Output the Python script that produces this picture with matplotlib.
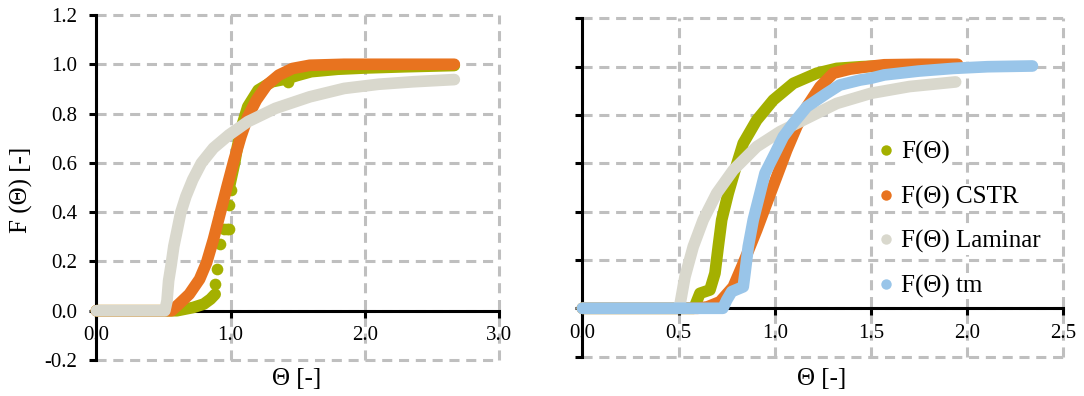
import numpy as np
import matplotlib.pyplot as plt
from matplotlib.lines import Line2D
from matplotlib.ticker import FormatStrFormatter, MultipleLocator

plt.rcParams['font.family'] = ['Liberation Serif', 'DejaVu Serif']
plt.rcParams['axes.unicode_minus'] = False

# colours (Excel-like)
c_exp = '#A4B000'
c_cstr = '#E8731F'
c_lam = '#D9D8CD'
c_tm = '#99C5E9'

# ---- left chart ----
# F(Theta) measured: low part, scattered dots, upper part
L_exp_lo_x = [0.0, 0.3, 0.6, 0.72, 0.8, 0.85, 0.885]
L_exp_lo_y = [0.0, 0.0, 0.0, 0.013, 0.027, 0.047, 0.067]
L_exp_dot_x = [0.885, 0.897, 0.923, 0.949, 0.975, 0.987, 0.99, 1.0]
L_exp_dot_y = [0.108, 0.168, 0.269, 0.33, 0.33, 0.33, 0.43, 0.49]
L_exp_hi_x = [0.99, 1.03, 1.051, 1.09, 1.128, 1.205, 1.308, 1.41, 1.5, 1.6, 1.8, 2.0, 2.3, 2.667]
L_exp_hi_y = [0.5, 0.6, 0.666, 0.76, 0.828, 0.895, 0.929, 0.94, 0.955, 0.97, 0.98, 0.985, 0.99, 0.995]
L_exp_extra_x = [1.43]
L_exp_extra_y = [0.93]

L_cstr_x = [0.0, 0.3, 0.56, 0.615, 0.692, 0.769, 0.821, 0.872, 0.923, 0.974, 1.026,
            1.077, 1.128, 1.192, 1.269, 1.359, 1.462, 1.59, 1.846, 2.2, 2.667]
L_cstr_y = [0.0, 0.0, 0.0, 0.027, 0.067, 0.128, 0.195, 0.289, 0.397, 0.505, 0.612,
            0.707, 0.787, 0.855, 0.915, 0.956, 0.983, 0.996, 1.0, 1.0, 1.0]

L_lam_x = [0.0, 0.25, 0.51, 0.526, 0.538, 0.556, 0.577, 0.603, 0.628, 0.667, 0.718,
           0.782, 0.872, 0.987, 1.128, 1.333, 1.59, 1.846, 2.103, 2.359, 2.667]
L_lam_y = [0.0, 0.0, 0.0, 0.04, 0.121, 0.182, 0.262, 0.33, 0.397, 0.464, 0.532,
           0.599, 0.66, 0.713, 0.767, 0.821, 0.868, 0.902, 0.919, 0.929, 0.938]

# ---- right chart ----
R_exp_x = [0.0, 0.3, 0.58, 0.611, 0.663, 0.689, 0.706, 0.724, 0.758, 0.793, 0.836, 0.906,
           0.992, 1.096, 1.218, 1.322, 1.45, 1.6]
R_exp_y = [0.0, 0.0, 0.0, 0.062, 0.076, 0.145, 0.255, 0.366, 0.476, 0.572, 0.683, 0.779,
           0.862, 0.931, 0.973, 0.993, 1.0, 1.005]

R_cstr_x = [0.0, 0.3, 0.6, 0.65, 0.715, 0.784, 0.836, 0.906, 0.958, 1.01, 1.062, 1.114,
            1.166, 1.235, 1.304, 1.39, 1.48, 1.569, 1.75, 1.95]
R_cstr_y = [0.0, 0.0, 0.0, 0.006, 0.027, 0.089, 0.186, 0.324, 0.435, 0.545, 0.655, 0.752,
            0.834, 0.917, 0.973, 0.99, 1.0, 1.008, 1.01, 1.01]

R_lam_x = [0.0, 0.25, 0.5, 0.506, 0.533, 0.576, 0.628, 0.698, 0.784, 0.906, 1.027,
           1.183, 1.322, 1.5, 1.7, 1.94]
R_lam_y = [0.0, 0.0, 0.0, 0.01, 0.13, 0.255, 0.366, 0.476, 0.572, 0.669, 0.731,
           0.793, 0.848, 0.89, 0.918, 0.937]

R_tm_x = [0.0, 0.35, 0.73, 0.75, 0.776, 0.836, 0.845, 0.862, 0.888, 0.923, 0.949, 1.001,
          1.044, 1.096, 1.166, 1.27, 1.337, 1.444, 1.498, 1.569, 1.748, 1.927, 2.106, 2.339]
R_tm_y = [0.0, 0.0, 0.0, 0.034, 0.069, 0.089, 0.145, 0.255, 0.366, 0.476, 0.559, 0.641,
          0.71, 0.766, 0.834, 0.89, 0.924, 0.945, 0.952, 0.966, 0.982, 0.993, 1.0, 1.003]

labels = ['F(Θ)', 'F(Θ) CSTR', 'F(Θ) Laminar', 'F(Θ) tm']

LW = 8.4
MS = 8.4


def band(ax, x, y, c, z):
    ax.plot(x, y, color=c, lw=LW, solid_capstyle='round', solid_joinstyle='round',
            zorder=z, clip_on=False)


def dots(ax, x, y, c, z):
    ax.plot(x, y, 'o', color=c, ms=MS, mew=0, zorder=z, clip_on=False)


def style(ax, xmax, xstep, ylab):
    ax.set_xlim(0, xmax)
    ax.set_ylim(-0.2, 1.2)
    ax.xaxis.set_major_locator(MultipleLocator(xstep))
    ax.yaxis.set_major_locator(MultipleLocator(0.2))
    ax.xaxis.set_major_formatter(FormatStrFormatter('%.1f'))
    ax.yaxis.set_major_formatter(FormatStrFormatter('%.1f'))
    ax.spines['top'].set_visible(False)
    ax.spines['right'].set_visible(False)
    ax.spines['bottom'].set_position(('data', 0))
    ax.spines['left'].set_position(('data', 0))
    for s in ('left', 'bottom'):
        ax.spines[s].set_linewidth(2.2)
        ax.spines[s].set_zorder(2.5)
    ax.grid(True, color='#BFBFBF', lw=2.2, ls=(0, (3.3, 2.2)))
    ax.set_axisbelow(True)
    for gl in ax.get_xgridlines() + ax.get_ygridlines():
        gl.set_clip_on(False)
    ax.tick_params(axis='both', direction='out', length=5, width=2.2, labelsize=15,
                   color='black')
    ax.tick_params(axis='x', pad=6)
    ax.tick_params(axis='y', pad=9, labelleft=ylab)
    ax.set_facecolor('none')


fig = plt.figure(figsize=(10.84, 3.96), dpi=100)
ax1 = fig.add_axes([96.4 / 1084, 1 - 360 / 396, 402.6 / 1084, 345 / 396])
ax2 = fig.add_axes([582.4 / 1084, 1 - 356.6 / 396, 481 / 1084, 338.2 / 396])

# left chart
band(ax1, L_exp_lo_x, L_exp_lo_y, c_exp, 3)
band(ax1, L_exp_hi_x, L_exp_hi_y, c_exp, 3)
dots(ax1, L_exp_dot_x, L_exp_dot_y, c_exp, 3)
dots(ax1, L_exp_extra_x, L_exp_extra_y, c_exp, 3)
band(ax1, L_cstr_x, L_cstr_y, c_cstr, 4)
band(ax1, L_lam_x, L_lam_y, c_lam, 5)
style(ax1, 3.0, 1.0, True)
ax1.set_xlabel('Θ [-]', fontsize=18)
ax1.xaxis.set_label_coords(0.4975, -0.024)
ax1.set_ylabel('F (Θ) [-]', fontsize=18)
ax1.yaxis.set_label_coords(-0.157, 0.493)

# right chart
band(ax2, R_exp_x, R_exp_y, c_exp, 3)
band(ax2, R_cstr_x, R_cstr_y, c_cstr, 4)
band(ax2, R_lam_x, R_lam_y, c_lam, 5)
band(ax2, R_tm_x, R_tm_y, c_tm, 6)
style(ax2, 2.5, 0.5, False)
ax2.set_xlabel('Θ [-]', fontsize=18)
ax2.xaxis.set_label_coords(0.498, -0.034)

handles = [Line2D([], [], marker='o', ls='none', ms=7.5, mew=0, color=c)
           for c in (c_exp, c_cstr, c_lam, c_tm)]
leg = ax2.legend(handles, labels, loc='upper left', frameon=False, fontsize=18,
                 bbox_to_anchor=(876 / 1084, 1 - 141 / 396), bbox_transform=fig.transFigure,
                 borderpad=0, borderaxespad=0, handlelength=0.8, handletextpad=0.2,
                 labelspacing=0.86)
leg.set_zorder(10)
for t in leg.get_texts():
    t.set_bbox(dict(facecolor='white', edgecolor='none', pad=1))

fig.savefig('out.png', dpi=100)
